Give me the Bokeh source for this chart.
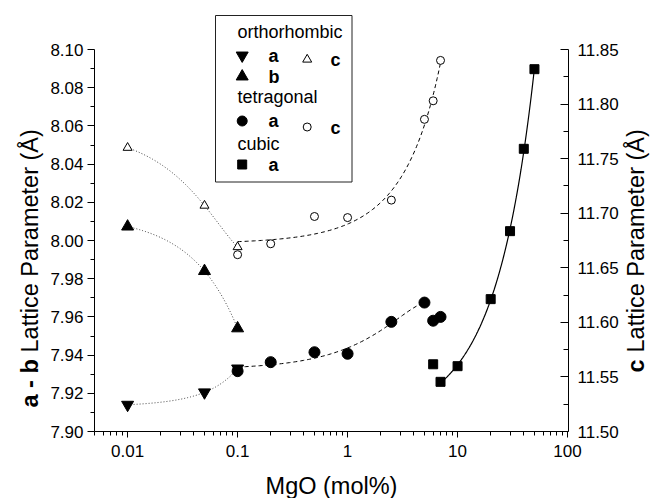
import numpy as np
from bokeh.plotting import figure
from bokeh.models import Range1d, LinearAxis, LinearScale, FixedTicker
from bokeh.core.properties import value
from bokeh.embed import file_html
from bokeh.resources import INLINE

# ---------------- data ----------------
ortho_x = [0.01, 0.05, 0.1]
ortho_a = [7.914, 7.9205, 7.933]
ortho_b = [8.0073, 7.984, 7.954]
ortho_c = [11.760, 11.707, 11.669]

tet_x = [0.1, 0.2, 0.5, 1, 2.5, 5, 6, 7]
tet_a = [7.9316, 7.9363, 7.9415, 7.9407, 7.9574, 7.9675, 7.958, 7.960]
tet_c = [11.662, 11.672, 11.697, 11.696, 11.712, 11.786, 11.803, 11.840]

cub_x = [6, 7, 10, 20, 30, 40, 50]
cub_a = [7.9352, 7.926, 7.9342, 7.9693, 8.0049, 8.048, 8.0897]

x_ticks = [0.01, 0.1, 1, 10, 100]
x_tick_labels = ["0.01", "0.1", "1", "10", "100"]
left_ticks = [7.90, 7.92, 7.94, 7.96, 7.98, 8.00, 8.02, 8.04, 8.06, 8.08, 8.10]
left_tick_labels = ["7.90", "7.92", "7.94", "7.96", "7.98", "8.00", "8.02", "8.04", "8.06", "8.08", "8.10"]
right_ticks = [11.50, 11.55, 11.60, 11.65, 11.70, 11.75, 11.80, 11.85]
right_tick_labels = ["11.50", "11.55", "11.60", "11.65", "11.70", "11.75", "11.80", "11.85"]

# ---------------- layout (picture pixel geometry) ----------------
FONT = "Liberation Sans"
W, H = 653, 498
C0X, C0Y = 0, 0                      # canvas origin in the picture
C1X, C1Y = C0X + W, C0Y + H
AX_L, AX_R = 94, 568                 # x of left / right axis lines
AX_T, AX_B = 49, 431                 # y of top / bottom axis ends
X_MIN, X_MAX = 0.005, 102.0          # x extent of the drawn axis
DEC_PX = (AX_R - AX_L) / np.log10(X_MAX / X_MIN)
left_lo, left_hi = 7.90, 8.10
right_lo, right_hi = 11.50, 11.85
ax_h = AX_B - AX_T

lx = np.log10(X_MIN)
x_start = 10 ** (lx - (AX_L - C0X) / DEC_PX)
x_end = 10 ** (lx + (C1X - AX_L) / DEC_PX)
k_l = (left_hi - left_lo) / ax_h
y_start = left_lo - (C1Y - AX_B) * k_l
y_end = left_lo + (AX_B - C0Y) * k_l
k_r = (right_hi - right_lo) / ax_h
c_start = right_lo - (C1Y - AX_B) * k_r
c_end = right_lo + (AX_B - C0Y) * k_r

p = figure(width=W, height=H, x_axis_type="log",
           x_range=Range1d(x_start, x_end), y_range=Range1d(y_start, y_end),
           output_backend="svg", toolbar_location=None,
           min_border=0, min_border_left=0, min_border_right=0,
           min_border_top=0, min_border_bottom=0)
p.extra_y_ranges = {"c": Range1d(c_start, c_end), "px": Range1d(C1Y, C0Y)}
p.extra_x_ranges = {"px": Range1d(C0X, C1X)}
p.extra_x_scales = {"px": LinearScale()}
p.extra_y_scales = {"px": LinearScale(), "c": LinearScale()}
p.outline_line_color = None
p.xgrid.visible = False
p.ygrid.visible = False
p.background_fill_color = "white"
p.border_fill_color = "white"

def style_axis(ax):
    ax.axis_line_color = "black"
    ax.major_tick_line_color = "black"
    ax.minor_tick_line_color = "black"
    ax.major_label_text_font = FONT
    ax.major_label_text_font_size = "17px"
    ax.major_label_text_color = "black"

xa = p.xaxis[0]
style_axis(xa)
xa.fixed_location = left_lo
xa.bounds = (X_MIN, X_MAX)
minor_x = [m * 10.0 ** e for e in range(-3, 2) for m in range(2, 10)]
xa.ticker = FixedTicker(ticks=x_ticks, minor_ticks=[v for v in minor_x if X_MIN <= v <= X_MAX])
xa.major_label_overrides = {t: l for t, l in zip(x_ticks, x_tick_labels)}
xa.major_tick_out = 6
xa.major_tick_in = 0
xa.minor_tick_out = 4
xa.minor_tick_in = 0
xa.major_label_standoff = 7

ya = p.yaxis[0]
style_axis(ya)
ya.fixed_location = X_MIN
ya.bounds = (left_lo, left_hi)
ya.ticker = FixedTicker(ticks=left_ticks,
                        minor_ticks=[round(t + 0.01, 3) for t in left_ticks[:-1]])
ya.major_label_overrides = {t: l for t, l in zip(left_ticks, left_tick_labels)}
ya.major_tick_out = 7
ya.major_tick_in = 0
ya.minor_tick_out = 4
ya.minor_tick_in = 0
ya.major_label_standoff = 4

ra = LinearAxis(y_range_name="c")
style_axis(ra)
ra.fixed_location = X_MAX
ra.bounds = (right_lo, right_hi)
ra.ticker = FixedTicker(ticks=right_ticks,
                        minor_ticks=[round(t + 0.025, 3) for t in right_ticks[:-1]])
ra.major_label_overrides = {t: l for t, l in zip(right_ticks, right_tick_labels)}
ra.major_tick_out = 0
ra.major_tick_in = 8
ra.minor_tick_out = 0
ra.minor_tick_in = 5
ra.major_label_standoff = 9
p.add_layout(ra, "right")

# ---------------- fitted curves ----------------
def fit_curve(xs, ys, x0, x1, deg=2):
    coef = np.polyfit(xs, ys, deg)
    xx = np.logspace(np.log10(x0), np.log10(x1), 120)
    return xx, np.polyval(coef, xx)

xx, yy = fit_curve(ortho_x, ortho_a, 0.01, 0.1)
p.line(xx, yy, line_color="#444444", line_width=1, line_dash="1 2")
xx, yy = fit_curve(ortho_x, ortho_b, 0.01, 0.1)
p.line(xx, yy, line_color="#444444", line_width=1, line_dash="1 2")
xx, yy = fit_curve(ortho_x, ortho_c, 0.01, 0.1)
p.line(xx, yy, line_color="#444444", line_width=1, line_dash="1 2", y_range_name="c")
xx, yy = fit_curve(tet_x[:6], tet_a[:6], 0.1, 5)
p.line(xx, yy, line_color="black", line_width=1, line_dash="4 3")
xx, yy = fit_curve(tet_x, tet_c, 0.1, 7)
p.line(xx, yy, line_color="black", line_width=1, line_dash="4 3", y_range_name="c")
xx, yy = fit_curve(cub_x[1:], cub_a[1:], 7, 50)
p.line(xx, yy, line_color="black", line_width=1.2)

# ---------------- markers ----------------
p.scatter(ortho_x, ortho_a, marker="inverted_triangle", size=12, fill_color="black", line_color="black")
p.scatter(ortho_x, ortho_b, marker="triangle", size=12, fill_color="black", line_color="black")
p.scatter(ortho_x, ortho_c, marker="triangle", size=9, fill_color="white", line_color="black",
          y_range_name="c")
p.scatter(tet_x, tet_c, marker="circle", size=8, fill_color="white", line_color="black",
          y_range_name="c")
p.scatter(tet_x, tet_a, marker="circle", size=11, fill_color="black", line_color="black")
p.scatter(cub_x, cub_a, marker="square", size=9, fill_color="black", line_color="black")

# ---------------- legend (picture-pixel coordinates) ----------------
PX = dict(x_range_name="px", y_range_name="px")
p.quad(left=[215], right=[351.5], top=[15], bottom=[181.5], fill_color="white",
       line_color="#222222", line_width=1, **PX)
p.scatter([241.7], [55], marker="inverted_triangle", size=12, fill_color="black",
          line_color="black", **PX)
p.scatter([241.7], [76], marker="triangle", size=12, fill_color="black",
          line_color="black", **PX)
p.scatter([306.7], [59], marker="triangle", size=9, fill_color="white",
          line_color="black", **PX)
p.scatter([241.7], [120.5], marker="circle", size=10, fill_color="black",
          line_color="black", **PX)
p.scatter([306.7], [126.5], marker="circle", size=8, fill_color="white",
          line_color="black", **PX)
p.scatter([241.7], [164], marker="square", size=9, fill_color="black",
          line_color="black", **PX)

p.text(x=[237, 237, 237], y=[31, 96, 143], text=["orthorhombic", "tetragonal", "cubic"],
       text_font=value(FONT), text_font_size="18px", text_color="black",
       text_baseline="alphabetic", text_align="left", **PX)
p.text(x=[268, 268, 268, 268, 330, 330], y=[55, 76, 120, 164, 59, 127],
       text=["a", "b", "a", "a", "c", "c"],
       text_font=value(FONT), text_font_size="18px", text_font_style="bold",
       text_color="black", text_baseline="alphabetic", text_align="left", **PX)

# ---------------- axis titles (picture-pixel coordinates) ----------------
TS = "23.5px"
def title(x, y, txt, bold=False, angle=0.0, align="left", baseline="middle"):
    p.text(x=[x], y=[y], text=[txt], angle=angle, text_align=align,
           text_baseline=baseline, text_font=value(FONT), text_font_size=TS,
           text_color="black", text_font_style="bold" if bold else "normal", **PX)

title(29, 407, "a - b", bold=True, angle=np.pi / 2)
title(29, 407 - 55, "Lattice Parameter (Å)", angle=np.pi / 2)
title(635, 372, "c", bold=True, angle=np.pi / 2)
title(635, 372 - 20, "Lattice Parameter (Å)", angle=np.pi / 2)
title(331, 485, "MgO (mol%)", align="center", baseline="alphabetic")

open("out.html", "w").write(file_html(p, INLINE))
